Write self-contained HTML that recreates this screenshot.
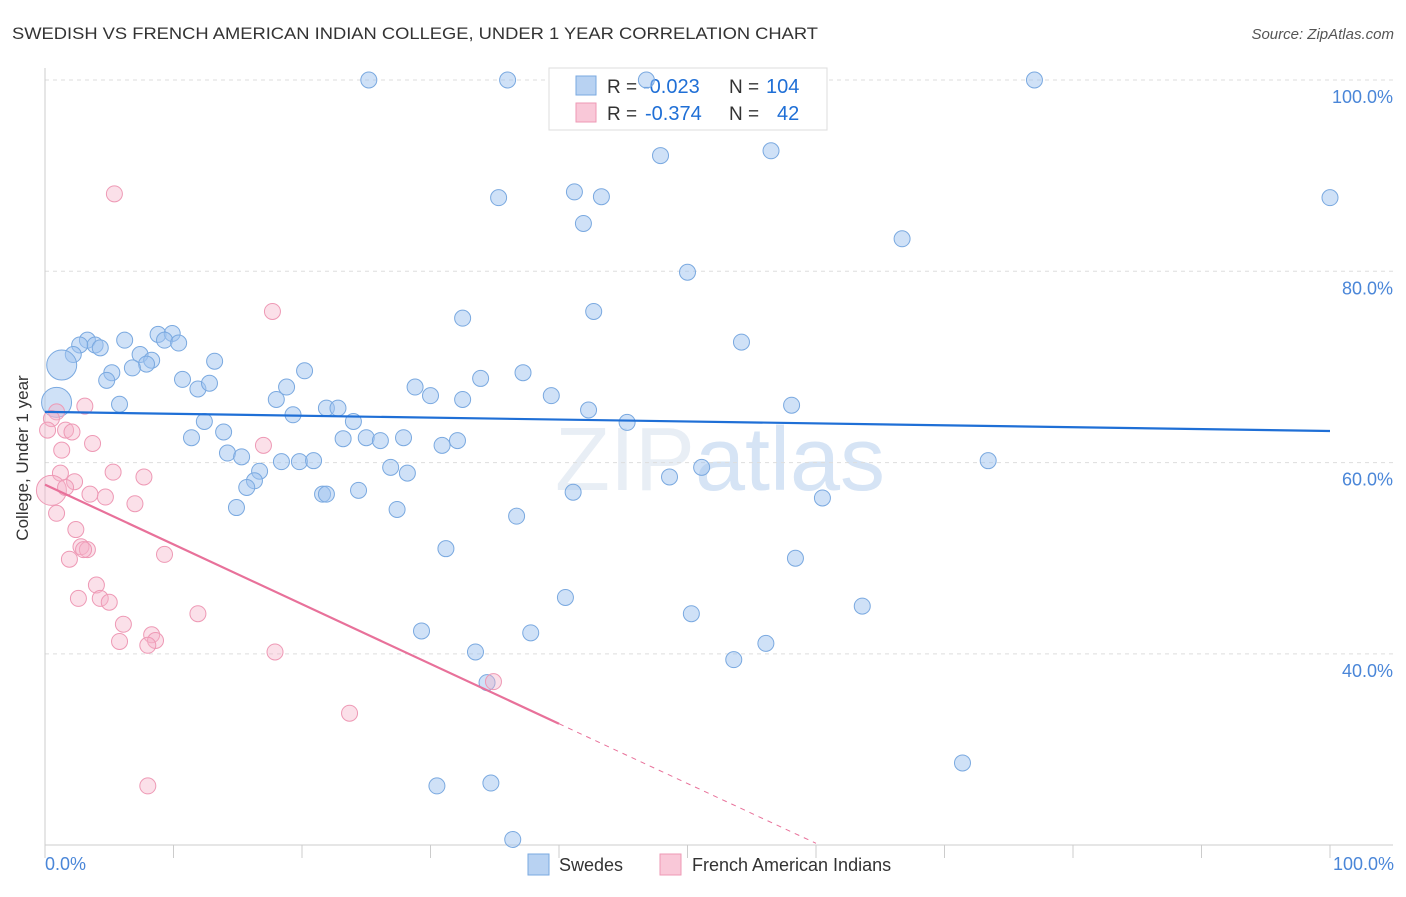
<!DOCTYPE html>
<html><head><meta charset="utf-8">
<style>
body{margin:0;background:#fff;font-family:"Liberation Sans",sans-serif;}
svg text{font-family:"Liberation Sans",sans-serif;}
</style></head>
<body>
<svg id="chart" width="1406" height="892" viewBox="0 0 1406 892" xmlns="http://www.w3.org/2000/svg">
<text x="12" y="39" font-size="17" fill="#333" textLength="806" lengthAdjust="spacingAndGlyphs">SWEDISH VS FRENCH AMERICAN INDIAN COLLEGE, UNDER 1 YEAR CORRELATION CHART</text>
<text x="1394" y="39" font-size="15" fill="#555" font-style="italic" text-anchor="end">Source: ZipAtlas.com</text>
<text x="720" y="490" font-size="90" fill="#e8eef5" text-anchor="middle" font-family="Liberation Serif">ZIP<tspan fill="#d6e4f5" font-family="Liberation Sans">atlas</tspan></text>
<g id="grid"></g>
<g id="axes"></g>
<g>
<rect x="549" y="68" width="278" height="62" fill="#fff" stroke="#ddd"/>
<rect x="576" y="76" width="20" height="19" fill="#b8d2f2" stroke="#7aa9e0"/>
<rect x="576" y="103" width="20" height="19" fill="#f9c8d8" stroke="#ee99b5"/>
<text x="607" y="93" font-size="19" fill="#333">R =</text>
<text x="643" y="93" font-size="20" fill="#1f6fd6">-0.023</text>
<text x="729" y="93" font-size="19" fill="#333">N =</text>
<text x="766" y="93" font-size="20" fill="#1f6fd6">104</text>
<text x="607" y="120" font-size="19" fill="#333">R =</text>
<text x="645" y="120" font-size="20" fill="#1f6fd6">-0.374</text>
<text x="729" y="120" font-size="19" fill="#333">N =</text>
<text x="777" y="120" font-size="20" fill="#1f6fd6">42</text>
</g>
<g id="marks"></g>
<g id="trends"></g>
<text x="25" y="455" font-size="17" fill="#333" text-anchor="middle" transform="rotate(-90 28 455)">College, Under 1 year</text>
<text x="45" y="870" font-size="18" fill="#4a86d8">0.0%</text>
<text x="1394" y="870" font-size="18" fill="#4a86d8" text-anchor="end">100.0%</text>
<g>
<rect x="528" y="854" width="21" height="21" fill="#b8d2f2" stroke="#7aa9e0"/>
<text x="559" y="871" font-size="18" fill="#333">Swedes</text>
<rect x="660" y="854" width="21" height="21" fill="#f9c8d8" stroke="#ee99b5"/>
<text x="692" y="871" font-size="18" fill="#333">French American Indians</text>
</g>
</svg>
<script>
const yTicks=[40,60,80,100];
const yTickLabels=["40.0%","60.0%","80.0%","100.0%"];
const xTicks=[0,10,20,30,40,50,60,70,80,90,100];
const swedesX=[25.2,36.0,46.8,77.0,47.9,56.5,35.3,41.2,43.3,41.9,100,66.7,50.0,42.7,32.5,54.2,3.3,3.9,2.7,4.3,2.2,1.3,6.2,7.4,8.3,7.9,8.8,9.9,9.3,10.4,13.2,5.2,4.8,6.8,10.7,11.9,12.8,20.2,18.8,18.0,19.3,5.8,0.9,28.8,30.0,33.9,37.2,32.5,39.4,42.3,45.3,58.1,21.9,22.8,24.0,23.2,25.0,26.1,27.9,32.1,30.9,11.4,12.4,13.9,14.2,15.3,16.7,16.3,15.7,18.4,19.8,20.9,26.9,28.2,21.6,21.9,24.4,14.9,27.4,41.1,36.7,48.6,51.1,73.4,60.5,31.2,58.4,40.5,50.3,63.6,29.3,37.8,33.5,56.1,53.6,34.4,71.4,30.5,34.7,36.4];
const swedesY=[100,100,100,100,92.1,92.6,87.7,88.3,87.8,85.0,87.7,83.4,79.9,75.8,75.1,72.6,72.8,72.3,72.3,72.0,71.3,70.2,72.8,71.3,70.7,70.3,73.4,73.5,72.8,72.5,70.6,69.4,68.6,69.9,68.7,67.7,68.3,69.6,67.9,66.6,65.0,66.1,66.3,67.9,67.0,68.8,69.4,66.6,67.0,65.5,64.2,66.0,65.7,65.7,64.3,62.5,62.6,62.3,62.6,62.3,61.8,62.6,64.3,63.2,61.0,60.6,59.1,58.1,57.4,60.1,60.1,60.2,59.5,58.9,56.7,56.7,57.1,55.3,55.1,56.9,54.4,58.5,59.5,60.2,56.3,51.0,50.0,45.9,44.2,45.0,42.4,42.2,40.2,41.1,39.4,37.0,28.6,26.2,26.5,20.6];
const swedesBig=[21,42];
const frenchX=[5.4,17.7,0.9,3.1,0.5,0.2,1.6,2.1,3.7,1.3,5.3,1.2,7.7,2.3,0.5,1.6,3.5,4.7,7.0,0.9,2.4,2.8,3.3,3.0,1.9,9.3,4.0,2.6,4.3,5.0,11.9,6.1,8.3,8.6,5.8,8.0,17.9,17.0,34.9,23.7,8.0];
const frenchY=[88.1,75.8,65.3,65.9,64.6,63.4,63.4,63.2,62.0,61.3,59.0,58.9,58.5,58.0,57.1,57.4,56.7,56.4,55.7,54.7,53.0,51.2,50.9,50.9,49.9,50.4,47.2,45.8,45.8,45.4,44.2,43.1,42.0,41.4,41.3,40.9,40.2,61.8,37.1,33.8,26.2];
const frenchBig=[14];
const swedesTrend=[65.3,63.3];
const frenchTrend=[57.7,-0.625];
const frenchSolidEnd=40, frenchDashEnd=60;

const NS="http://www.w3.org/2000/svg";
const X=v=>45+v*12.85;
const Y=v=>80+(100-v)*9.565;
function mk(tag,attrs,parent){const e=document.createElementNS(NS,tag);for(const k in attrs)e.setAttribute(k,attrs[k]);parent.appendChild(e);return e;}
const grid=document.getElementById('grid'),axes=document.getElementById('axes'),marks=document.getElementById('marks'),trends=document.getElementById('trends');
yTicks.forEach((t,i)=>{
  const l=mk('line',{x1:45,x2:1393,y1:Y(t),y2:Y(t),stroke:'#ddd','stroke-dasharray':'4,4'},grid);
  
  
  const tx=mk('text',{x:1393,y:Y(t)+23,'font-size':18,fill:'#4a86d8','text-anchor':'end'},axes);
  tx.textContent=yTickLabels[i];
  
  
});
mk('line',{x1:45,x2:45,y1:68,y2:845,stroke:'#ccc'},axes);
mk('line',{x1:45,x2:1393,y1:845,y2:845,stroke:'#ccc'},axes);
xTicks.forEach(t=>{
  const l=mk('line',{x1:X(t),x2:X(t),y1:845,y2:858,stroke:'#ccc'},axes);
  
  
});
swedesX.forEach((v,i)=>{
  const big=swedesBig.includes(i);
  const c=mk('circle',{cx:X(v),cy:Y(swedesY[i]),r:big?15:8,fill:'rgba(160,196,240,0.5)',stroke:'#7aa9e0','stroke-width':1},marks);
  
  
});
frenchX.forEach((v,i)=>{
  const big=frenchBig.includes(i);
  const c=mk('circle',{cx:X(v),cy:Y(frenchY[i]),r:big?15:8,fill:'rgba(246,178,200,0.4)',stroke:'#ee99b5','stroke-width':1},marks);
  
  
});
const bl=mk('line',{x1:X(0),y1:Y(swedesTrend[0]),x2:X(100),y2:Y(swedesTrend[1]),stroke:'#1f6fd6','stroke-width':2.2},trends);


const fy=x=>frenchTrend[0]+frenchTrend[1]*x;
const pl=mk('line',{x1:X(0),y1:Y(fy(0)),x2:X(frenchSolidEnd),y2:Y(fy(frenchSolidEnd)),stroke:'#e8719a','stroke-width':2.2},trends);


const pd=mk('line',{x1:X(frenchSolidEnd),y1:Y(fy(frenchSolidEnd)),x2:X(frenchDashEnd),y2:Y(fy(frenchDashEnd)),stroke:'#e8719a','stroke-width':1,'stroke-dasharray':'5,5'},trends);


</script>
</body></html>
